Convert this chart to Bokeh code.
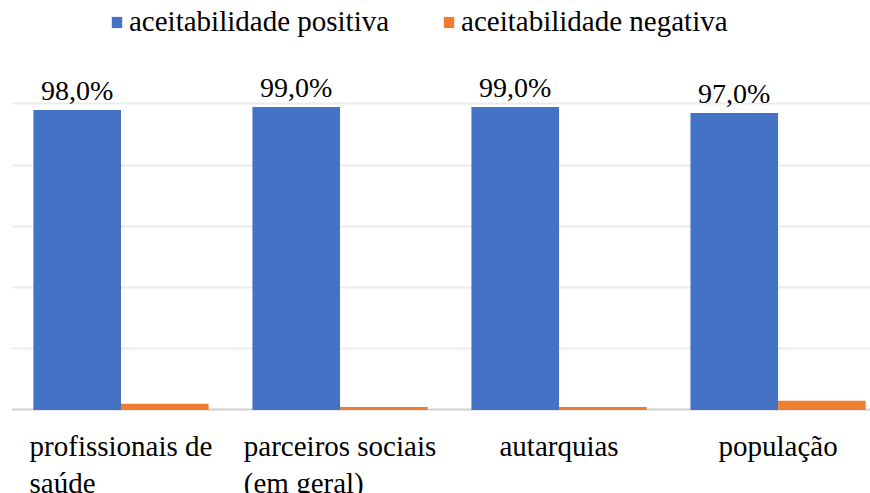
import numpy as np
from bokeh.plotting import figure
from bokeh.models import ColumnDataSource, Legend, LegendItem, FixedTicker, Range1d, LabelSet
from bokeh.core.properties import value
from bokeh.embed import file_html
from bokeh.resources import INLINE

categories = ["profissionais de\nsaúde", "parceiros sociais\n(em geral)", "autarquias", "população"]
positiva = [98, 99, 99, 97]
negativa = [2, 1, 1, 3]
labels = ["98,0%", "99,0%", "99,0%", "97,0%"]
series_names = ["aceitabilidade positiva", "aceitabilidade negativa"]
grid_ticks = [20, 40, 60, 80, 100]

BLUE = "#4472C4"
ORANGE = "#ED7D31"
FONT = "Liberation Serif"

idx = np.arange(len(categories))
centers = idx + 0.5
bw = 0.4

src = ColumnDataSource(dict(
    xp=centers - bw / 2, xn=centers + bw / 2,
    pos=positiva, neg=negativa, lab=labels,
))
csrc = ColumnDataSource(dict(x=centers, y=np.zeros(len(categories)), name=categories))

p = figure(width=870, height=493, output_backend="svg", toolbar_location=None,
           x_range=Range1d(0, 3.922), y_range=Range1d(-27.29, 133.8),
           x_axis_location=None, y_axis_location=None,
           min_border_left=11, min_border_right=0,
           min_border_top=0, min_border_bottom=0)
p.outline_line_color = None
p.background_fill_color = "white"

p.xgrid.grid_line_color = None
p.ygrid.ticker = FixedTicker(ticks=grid_ticks)
p.ygrid.grid_line_color = "#ebebeb"
p.ygrid.grid_line_width = 2
p.hspan(y=[0], line_color="#d0d0d0", line_width=2)

rp = p.vbar(x="xp", top="pos", width=bw, source=src, fill_color=BLUE, line_color=None)
rn = p.vbar(x="xn", top="neg", width=bw, source=src, fill_color=ORANGE, line_color=None)

ls = LabelSet(x="xp", y="pos", text="lab", source=src, text_align="center",
              text_baseline="alphabetic", y_offset=10, text_font=value(FONT),
              text_font_size=value("28px"), text_color="black")
p.add_layout(ls)

cl = LabelSet(x="x", y="y", text="name", source=csrc, text_align="center",
              text_baseline="top", y_offset=-20, text_font=value(FONT),
              text_font_size=value("29px"), text_color="black", text_line_height=1.15)
p.add_layout(cl)

legend = Legend(items=[LegendItem(label=series_names[0], renderers=[rp]),
                       LegendItem(label=series_names[1], renderers=[rn])],
                location=(99, 455), orientation="horizontal",
                glyph_width=13, glyph_height=14, label_standoff=6, spacing=53,
                padding=0, margin=0, border_line_color=None,
                background_fill_alpha=0, label_text_font=FONT,
                label_text_font_size="29px", label_text_color="black")
p.add_layout(legend)

open("out.html", "w").write(file_html(p, INLINE))
